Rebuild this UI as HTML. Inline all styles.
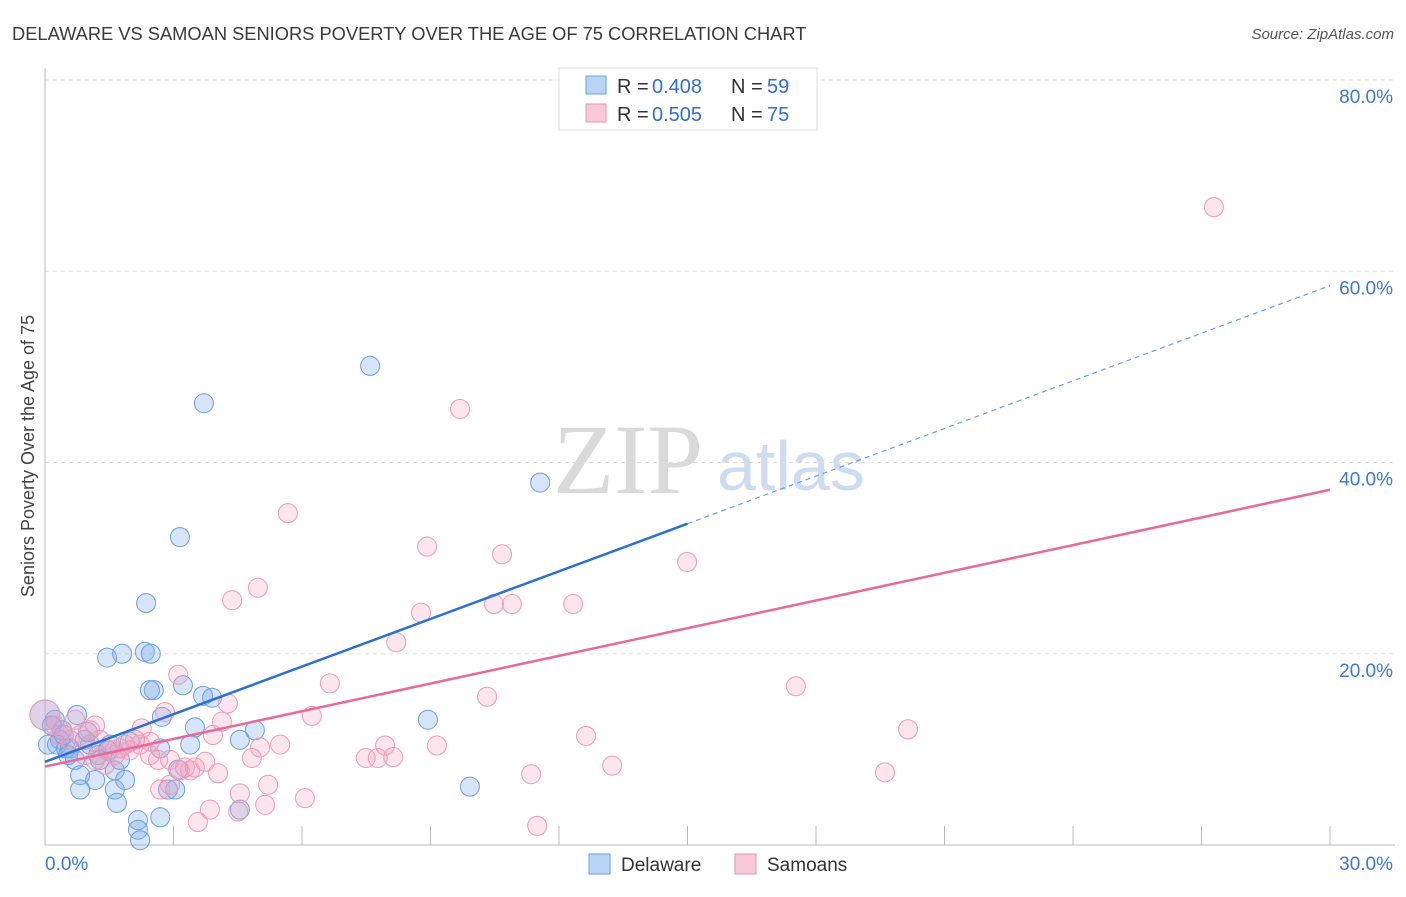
<!DOCTYPE html>
<html><head><meta charset="utf-8"><style>
body{margin:0;background:#fff;font-family:"Liberation Sans",sans-serif;}
</style></head><body>
<svg id="chart" width="1406" height="892" viewBox="0 0 1406 892" xmlns="http://www.w3.org/2000/svg" font-family="Liberation Sans, sans-serif">
<text x="12" y="40" font-size="18.3" fill="#3a3a3a">DELAWARE VS SAMOAN SENIORS POVERTY OVER THE AGE OF 75 CORRELATION CHART</text>
<text x="1394" y="39" font-size="15" fill="#555" font-style="italic" text-anchor="end">Source: ZipAtlas.com</text>
<text x="34" y="456" font-size="18" fill="#444" text-anchor="middle" transform="rotate(-90 34 456)">Seniors Poverty Over the Age of 75</text>
<g>
<text x="553" y="493" font-size="100" fill="#d9d9d9" style="font-family:'Liberation Serif',serif">ZIP</text>
<text x="717" y="490" font-size="70" fill="#cddcf0">atlas</text>
</g>
<g id="grid"></g><g id="axes"></g><g id="pts"></g><g id="lines"></g>
<g>
<rect x="559" y="68" width="258" height="62" fill="#fff" stroke="#ddd"/>
<rect x="586" y="76" width="20" height="18" fill="#b8d3f4" stroke="#6a9fe0"/>
<rect x="586" y="104" width="20" height="18" fill="#f9c9d8" stroke="#ea93b0"/>
<g font-size="20" fill="#333">
<text x="617" y="93">R =</text>
<text x="652" y="93" fill="#2f6fd1">0.408</text>
<text x="731" y="93">N =</text>
<text x="767" y="93" fill="#2f6fd1">59</text>
<text x="617" y="121">R =</text>
<text x="652" y="121" fill="#2f6fd1">0.505</text>
<text x="731" y="121">N =</text>
<text x="767" y="121" fill="#2f6fd1">75</text>
</g>
</g>
<g>
<rect x="589" y="854" width="21" height="20" fill="#b8d3f4" stroke="#6a9fe0"/>
<text x="621" y="871" font-size="19" fill="#333">Delaware</text>
<rect x="735" y="854" width="21" height="20" fill="#f9c9d8" stroke="#ea93b0"/>
<text x="767" y="871" font-size="19" fill="#333">Samoans</text>
</g>
</svg>
<script>
const yTicks=[20,40,60,80];
const yTickLabels=["20.0%","40.0%","60.0%","80.0%"];
const xTicks=[3,6,9,12,15,18,21,24,27,30];
const blueX=[0,0.23,0.35,0.07,0.75,0.58,1.05,1.24,0.93,0.82,1.17,0.82,0.70,1.52,1.63,1.63,1.68,1.45,1.80,2.36,2.33,2.47,2.54,2.69,2.73,3.22,3.15,3.71,3.69,3.90,3.50,3.39,3.11,2.87,3.04,4.55,4.90,4.55,2.17,2.17,2.22,2.69,7.59,8.94,9.92,11.56,1.98,1.28,0.40,0.28,0.49,1.0,1.47,1.75,1.87,0.54,0.16,0.44,2.45];
const blueY=[13.6,13.1,11.0,10.5,13.6,10.1,10.5,9.4,11.0,7.3,6.8,5.8,8.9,10.5,7.8,5.8,4.4,19.6,20.0,25.3,20.2,20.0,16.2,10.1,13.4,16.7,32.2,46.2,15.6,15.4,12.3,10.5,7.9,5.8,5.8,11.0,12.0,3.7,2.6,1.6,0.5,2.9,50.1,13.1,6.1,37.9,10.8,8.9,12.0,10.5,10.1,11.8,9.9,8.9,6.8,9.4,12.5,11.5,16.2];
const pinkX=[0,0.23,0.35,0.58,0.82,1.05,1.17,1.28,0.93,1.40,1.63,1.75,1.87,2.22,2.26,2.45,2.64,2.80,2.92,3.11,3.15,3.27,3.39,3.50,3.74,3.85,3.92,4.04,4.13,4.27,3.57,4.37,4.55,4.51,4.83,4.97,5.02,5.14,5.21,5.49,5.67,6.07,6.23,6.65,7.49,7.77,7.94,8.13,8.20,8.78,8.92,9.15,9.69,10.32,10.48,10.67,10.90,11.35,11.49,12.33,12.63,13.24,14.99,17.53,19.61,20.15,27.29,0.70,1.52,1.98,2.10,2.45,2.69,2.92,1.17];
const pinkY=[13.6,12.5,11.5,11.0,11.5,12.0,12.5,11.0,9.4,8.4,9.4,10.1,10.5,10.5,12.2,10.8,8.9,13.9,8.9,17.8,7.8,8.1,7.8,8.1,8.7,3.7,11.5,7.5,12.9,14.8,2.4,25.6,5.4,3.5,9.1,26.9,10.2,4.2,6.3,10.5,34.7,4.9,13.5,16.9,9.1,9.1,10.4,9.2,21.2,24.3,31.2,10.4,45.6,15.5,25.2,30.4,25.2,7.4,2.0,25.2,11.4,8.3,29.6,16.6,7.6,12.1,66.7,13.1,9.9,9.9,11.0,9.4,5.8,6.3,8.9];
const blueTrend=[8.7,1.66];
const pinkTrend=[8.2,0.965];
const X0=45,X1=1330,Y0=845,PPY=9.5625;
const sx=v=>X0+(X1-X0)*v/30;
const sy=v=>Y0-v*PPY;
const NS="http://www.w3.org/2000/svg";
function mk(tag,attrs,parent){const e=document.createElementNS(NS,tag);for(const k in attrs)e.setAttribute(k,attrs[k]);document.getElementById(parent).appendChild(e);return e;}
yTicks.forEach((t,i)=>{
 const l=mk('line',{x1:45,x2:1395,y1:sy(t),y2:sy(t),stroke:'#ddd','stroke-dasharray':'4,4'},'grid');
 
 
 const tx=mk('text',{x:1393,y:sy(t)+23,'font-size':19,fill:'#3b78d8','text-anchor':'end'},'grid');
 tx.textContent=yTickLabels[i];
 
 
});
const ax=mk('line',{x1:45,x2:45,y1:68,y2:845,stroke:'#bbb'},'axes');


const bx=mk('line',{x1:45,x2:1395,y1:845,y2:845,stroke:'#bbb'},'axes');


xTicks.forEach(t=>{
 const l=mk('line',{x1:sx(t),x2:sx(t),y1:826,y2:845,stroke:'#bbb'},'axes');
 
 
});
const xl0=mk('text',{x:45,y:870,'font-size':19,fill:'#3b78d8'},'axes');xl0.textContent='0.0%';


const xl1=mk('text',{x:1393,y:870,'font-size':19,fill:'#3b78d8','text-anchor':'end'},'axes');xl1.textContent='30.0%';


function pts(xs,ys,fill,stroke,name){xs.forEach((x,i)=>{
 const c=mk('circle',{cx:sx(x),cy:sy(ys[i]),r:i===0?15:9.5,fill:fill,stroke:stroke,'stroke-width':1},'pts');
 
 
});}
pts(blueX,blueY,'rgba(130,175,235,0.33)','#6b9ede','point-delaware');
pts(pinkX,pinkY,'rgba(244,160,190,0.28)','#eb9ab6','point-samoans');
const b1=mk('line',{x1:sx(0),y1:sy(blueTrend[0]),x2:sx(15),y2:sy(blueTrend[0]+15*blueTrend[1]),stroke:'#2a6fd6','stroke-width':2.5},'lines');


const b2=mk('line',{x1:sx(15),y1:sy(blueTrend[0]+15*blueTrend[1]),x2:sx(30),y2:sy(blueTrend[0]+30*blueTrend[1]),stroke:'#6c9ee0','stroke-width':1.2,'stroke-dasharray':'5,4'},'lines');


const p1=mk('line',{x1:sx(0),y1:sy(pinkTrend[0]),x2:sx(30),y2:sy(pinkTrend[0]+30*pinkTrend[1]),stroke:'#e8699a','stroke-width':2.5},'lines');


</script>
</body></html>
